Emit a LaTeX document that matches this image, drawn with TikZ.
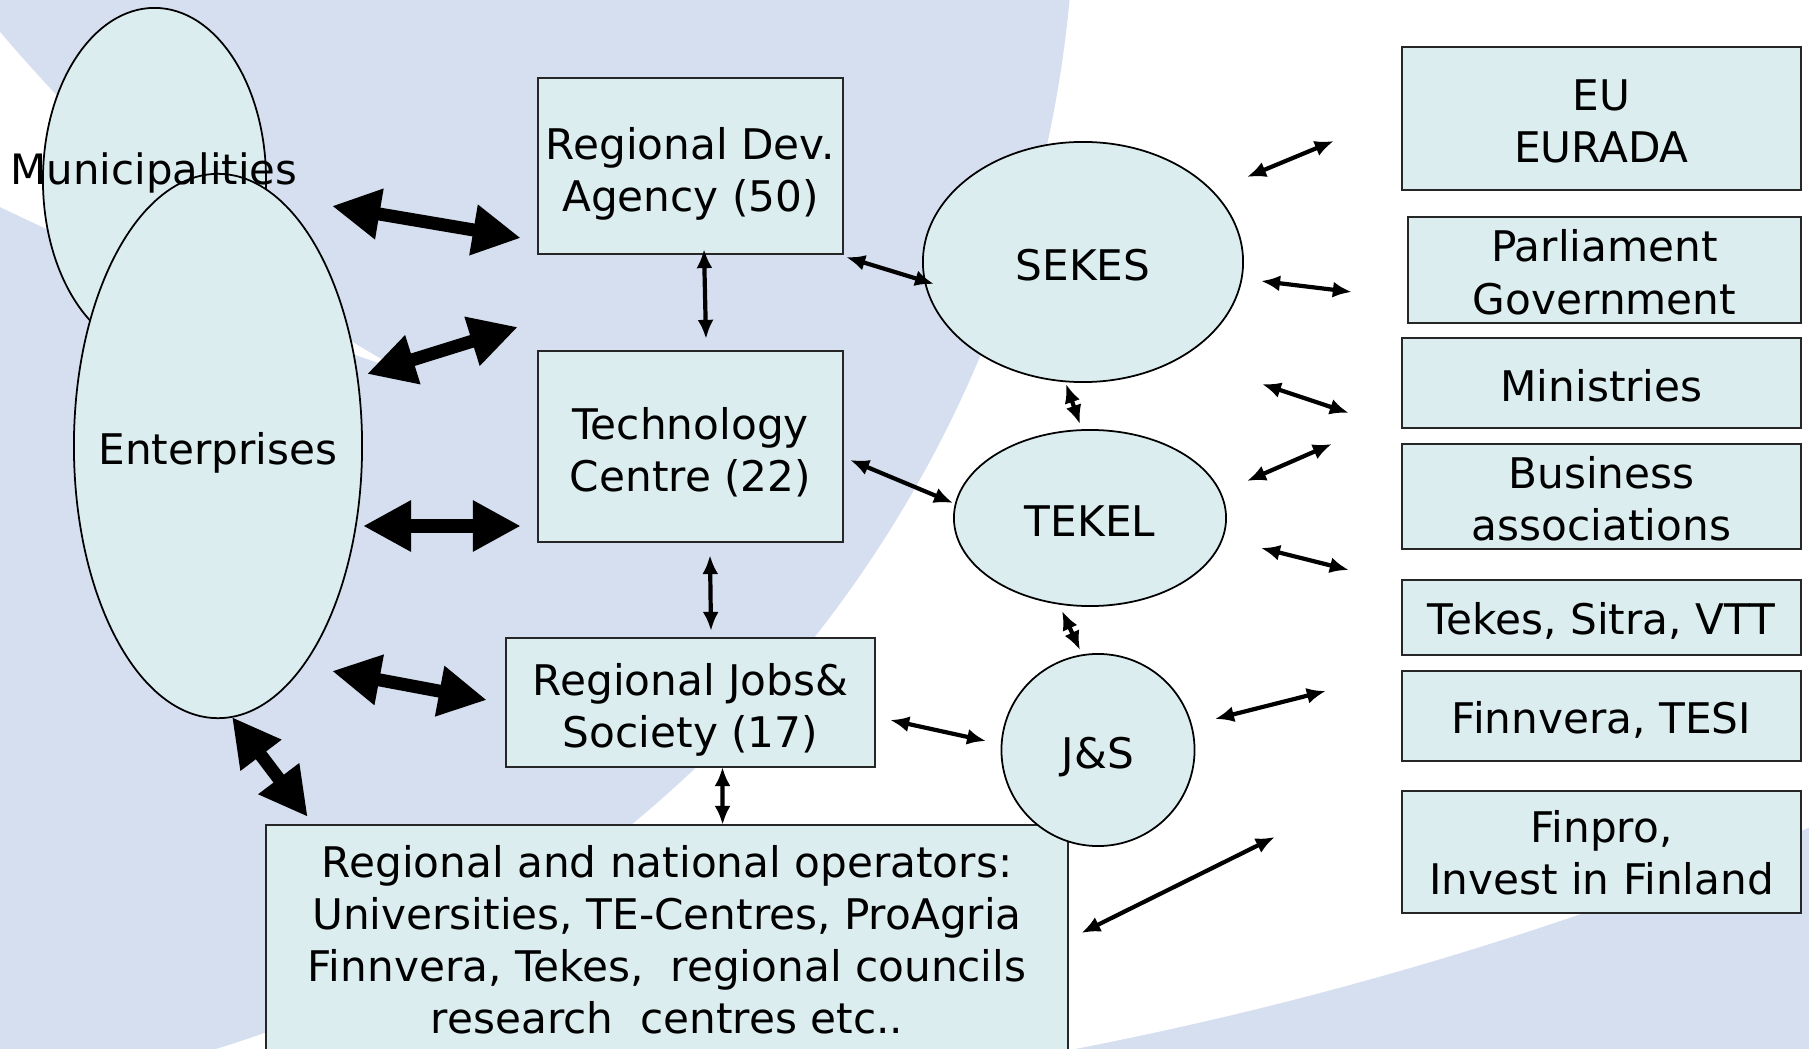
\documentclass[tikz,border=0pt]{standalone}
\usepackage{fontspec}
\setmainfont{DejaVu Sans}
\usetikzlibrary{arrows.meta,shapes.geometric}
\definecolor{bgblue}{RGB}{214,223,240}
\definecolor{nodefill}{RGB}{219,237,239}
\newcommand{\lowtext}[2]{\raisebox{-#1}[\height][\depth]{\begin{tabular}{@{}c@{}}#2\end{tabular}}}
\begin{document}
\begin{tikzpicture}[x=0.01cm,y=-0.01cm,
  txt/.style={font=\fontsize{12}{14.8}\selectfont},
  box/.style={txt, draw=black!85, line width=0.6pt, fill=nodefill, inner sep=0pt, align=center},
  oval/.style={txt, ellipse, draw=black, line width=0.5pt, fill=nodefill, inner sep=0pt},
  linkarrow/.style={line width=0.042cm, {Latex[length=0.19cm,width=0.16cm]}-{Latex[length=0.19cm,width=0.16cm]}},
  bigarrow/.style={line width=0.13cm, {Triangle[length=0.48cm,width=0.48cm]}-{Triangle[length=0.48cm,width=0.48cm]}}
]
\useasboundingbox (0,0) rectangle (1809,1049);
\clip (0,0) rectangle (1809,1049);
% background
\fill[bgblue] (0,0) rectangle (1809,1049);
\fill[white] (343,-2701) circle[radius=3820];
\fill[bgblue] (-144,-116) circle[radius=1219];
\fill[white] (0,32) .. controls (100,150) and (250,290) .. (405,372) .. controls (250,320) and (100,255) .. (0,207) -- cycle;

% left ellipses
\node[oval, minimum width=2.23cm, minimum height=3.44cm] (muni) at (154.5,180) {};
\node[oval, minimum width=2.88cm, minimum height=5.44cm] (ent) at (218,446) {};
\node[txt] (entlabel) at (218,453) {Enterprises};
\node[font=\fontsize{11.9}{14}\selectfont] (munilabel) at (154,173) {Municipalities};

% centre boxes
\node[box, minimum width=3.05cm, minimum height=1.76cm] (rda) at (690.5,166) {\lowtext{0.093cm}{Regional Dev.\\Agency (50)}};
\node[box, minimum width=3.05cm, minimum height=1.91cm] (tc) at (690.5,446.5) {\lowtext{0.083cm}{Technology\\Centre (22)}};
\node[box, minimum width=3.69cm, minimum height=1.29cm] (rjs) at (690.5,702.5) {\lowtext{0.087cm}{Regional Jobs\&\\Society (17)}};
\node[box, minimum width=8.02cm, minimum height=2.30cm] (ops) at (667,940) {Regional and national operators:\\Universities, TE-Centres, ProAgria\\Finnvera, Tekes,\ \ regional councils\\research\ \ centres etc..};

% right ellipses
\node[oval, minimum width=3.2cm, minimum height=2.4cm] (sekes) at (1083,262) {\lowtext{0.08cm}{SEKES}};
\node[oval, minimum width=2.72cm, minimum height=1.76cm] (tekel) at (1090,518) {\lowtext{0.08cm}{TEKEL}};
\node[oval, minimum width=1.93cm, minimum height=1.92cm] (js) at (1098,750) {\lowtext{0.083cm}{J\&S}};

% right boxes
\node[box, minimum width=3.99cm, minimum height=1.43cm] (eu) at (1601.5,118.5) {\lowtext{0.076cm}{EU\\EURADA}};
\node[box, minimum width=3.93cm, minimum height=1.06cm] (parl) at (1604.5,270) {\lowtext{0.076cm}{Parliament\\Government}};
\node[box, minimum width=3.99cm, minimum height=0.90cm] (min) at (1601.5,383) {\lowtext{0.08cm}{Ministries}};
\node[box, minimum width=3.99cm, minimum height=1.05cm] (bus) at (1601.5,496.5) {\lowtext{0.076cm}{Business\\associations}};
\node[box, minimum width=3.99cm, minimum height=0.75cm] (tek) at (1601.5,617.5) {\lowtext{0.07cm}{Tekes, Sitra, VTT}};
\node[box, minimum width=3.99cm, minimum height=0.90cm] (fin) at (1601.5,716) {\lowtext{0.07cm}{Finnvera, TESI}};
\node[box, minimum width=3.99cm, minimum height=1.22cm] (finpro) at (1601.5,852) {\lowtext{0.065cm}{Finpro,\\Invest in Finland}};

% thick arrows
\draw[bigarrow] ([shift={(177.5,26)}]muni.center) -- ([shift={(-16,72)}]rda.west);
\draw[bigarrow] ([shift={(149,-72)}]ent.center) -- ([shift={(-19,-119.5)}]tc.west);
\draw[bigarrow] ([shift={(145,80)}]ent.center) -- ([shift={(-16,79.5)}]tc.west);
\draw[bigarrow] ([shift={(114,225)}]ent.center) -- ([shift={(-18,-2.5)}]rjs.west);
\draw[bigarrow] ([shift={(14,-2)}]ent.south) -- ([shift={(43,-7)}]ops.north west);

% thin arrows
\draw[linkarrow] ([shift={(13.5,-6)}]rda.south) -- ([shift={(15.5,-11)}]tc.north);
\draw[linkarrow] ([shift={(19.5,12)}]tc.south) -- ([shift={(20.5,-6)}]rjs.north);
\draw[linkarrow] ([shift={(32,-1)}]rjs.south) -- ([shift={(55.6,1)}]ops.north);
\draw[linkarrow] ([shift={(2,2)}]rda.south east) -- ([shift={(12,22)}]sekes.west);
\draw[linkarrow] ([shift={(6,13.5)}]tc.east) -- ([shift={(0,-15)}]tekel.west);
\draw[linkarrow] ([shift={(14,17.5)}]rjs.east) -- ([shift={(-14.5,-9)}]js.west);
\draw[linkarrow] ([shift={(-17,1)}]sekes.south) -- ([shift={(-10,-5)}]tekel.north);
\draw[linkarrow] ([shift={(-28,4)}]tekel.south) -- ([shift={(-18,-3)}]js.north);
\draw[linkarrow] ([shift={(12,-7)}]ops.east) -- ([shift={(-126,-15)}]finpro.west);
\draw[linkarrow] ([shift={(164,-85)}]sekes.center) -- ([shift={(-67,22.5)}]eu.west);
\draw[linkarrow] ([shift={(178,19)}]sekes.center) -- ([shift={(-55,22)}]parl.west);
\draw[linkarrow] ([shift={(179,122)}]sekes.center) -- ([shift={(-52,30)}]min.west);
\draw[linkarrow] ([shift={(157,-37)}]tekel.center) -- ([shift={(-69,-52.5)}]bus.west);
\draw[linkarrow] ([shift={(171,30)}]tekel.center) -- ([shift={(-52,-47.5)}]tek.west);
\draw[linkarrow] ([shift={(117,-31)}]js.center) -- ([shift={(-75,-25)}]fin.west);
\end{tikzpicture}
\end{document}
